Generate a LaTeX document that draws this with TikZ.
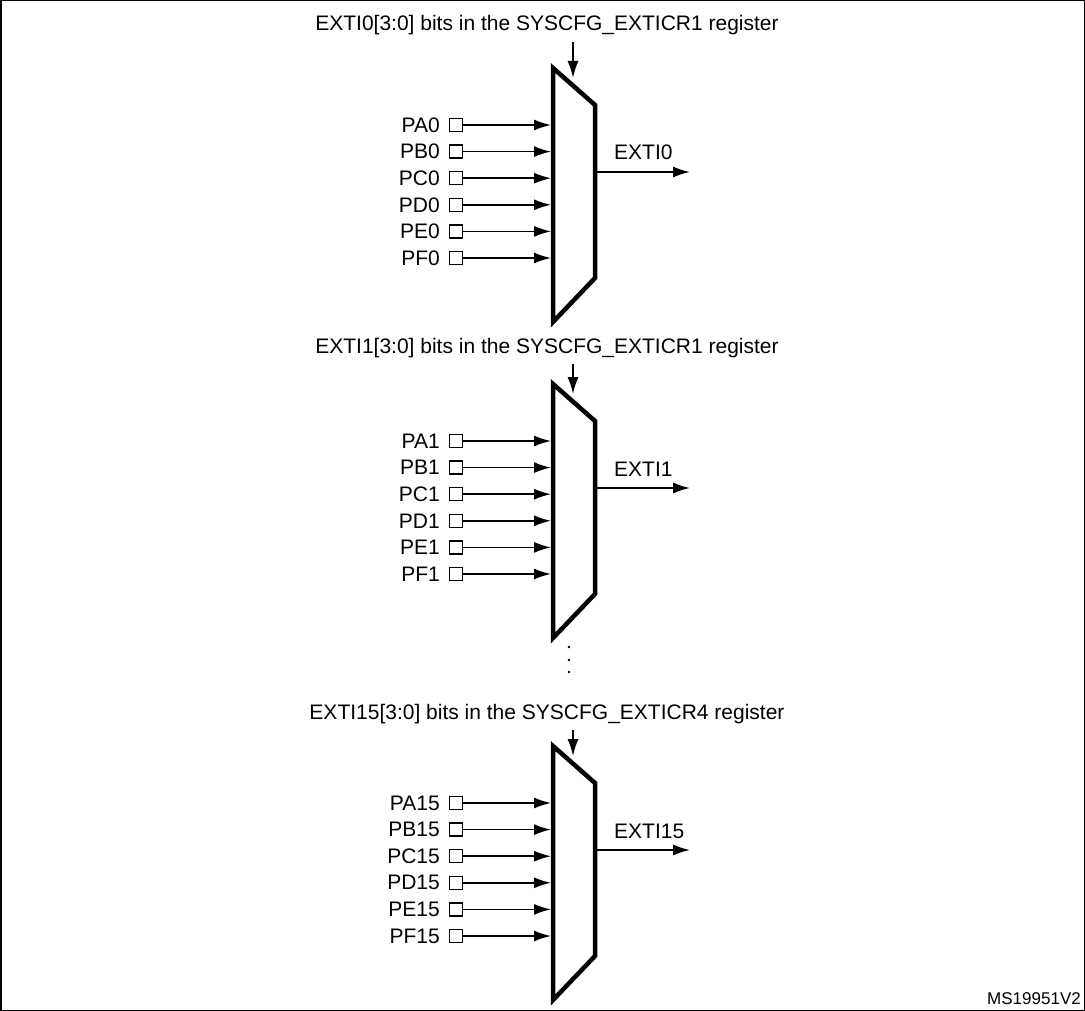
\documentclass[tikz,border=0pt]{standalone}
\usepackage{fontspec}
\setmainfont{Liberation Sans}
\usetikzlibrary{arrows.meta}

\tikzset{
  pin/.style={draw, line width=1.5pt, fill=white, minimum size=13pt, inner sep=0pt},
  lbl/.style={font=\fontsize{21}{24}\selectfont, inner sep=0pt},
  sig/.style={line width=1.6pt, -{Latex[length=17pt, width=11pt]}},
}

\begin{document}
\begin{tikzpicture}[x=1pt, y=-1pt]
    % frame
    \draw[line width=1.5pt] (0.75,0.75) rectangle (1084.25,1010.25);

    % one multiplexer per EXTI line
    \foreach \off/\n/\reg/\tshift in {0/0/1/0, 316/1/1/6, 678/15/4/10} {
        \begin{scope}[yshift=-\off pt]
            \node[lbl, anchor=base] (title\n) at (547,31+\tshift) {EXTI\n[3:0] bits in the SYSCFG\_EXTICR\reg{} register};
            \draw[line width=4.5pt, line join=miter, fill=white]
                (553,68) coordinate (mtl\n) -- (595,105) -- (595,278)
                -- (553,322) coordinate (mbl\n) -- cycle;
            \coordinate (sel\n) at (573,42+\tshift);
            \coordinate (selend\n) at (573,78);
            \draw[sig] (sel\n) -- (selend\n);
            \foreach \p [count=\i from 0] in {A,B,C,D,E,F} {
                \node[pin] (pin\p\n) at (456,125+26.6*\i) {};
                \node[lbl, anchor=east] (name\p\n) at (440,125+26.6*\i) {P\p\n};
                \coordinate (in\p\n) at (551,125+26.6*\i);
                \draw[sig] (pin\p\n.east) -- (in\p\n);
            }
            \coordinate (mout\n) at (597,172);
            \coordinate (out\n) at (690,172);
            \draw[sig] (mout\n) -- (out\n);
            \node[lbl, anchor=base west] (outname\n) at (614,160) {EXTI\n};
        \end{scope}
    }

    % dots between the second and the last multiplexer
    \foreach \y in {647,660,672} \fill (569,\y) circle (1.4pt);

    \node[lbl, font=\fontsize{17}{20}\selectfont, anchor=base east] (ref) at (1081,1004) {MS19951V2};
\end{tikzpicture}
\end{document}
